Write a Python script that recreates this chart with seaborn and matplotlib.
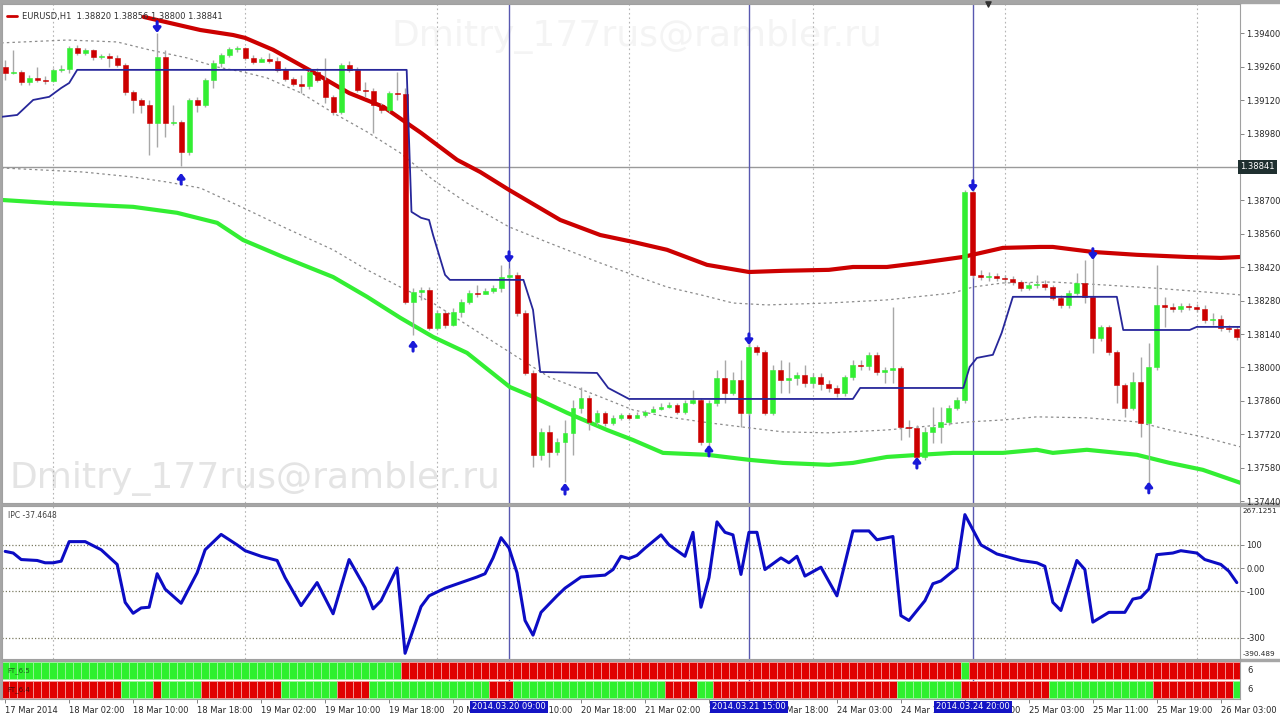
import numpy as np
import matplotlib
matplotlib.use("Agg")
import matplotlib.pyplot as plt
import matplotlib.transforms as mtrans
from matplotlib.patches import Rectangle
import seaborn as sns

sns.set_theme(style="white")
plt.rcParams["font.family"] = ["DejaVu Sans"]
plt.rcParams["font.size"] = 6

# EURUSD H1 candles (bar 0 = 17 Mar 18:00)
first_open = 1.39259
closes = [1.39234, 1.39238, 1.39196, 1.39213, 1.39205, 1.39201, 1.39247, 1.39251, 1.39339, 1.39318,
          1.39331, 1.39301, 1.39305, 1.39297, 1.39268, 1.39155, 1.39121, 1.39100, 1.39025, 1.39301,
          1.39025, 1.39029, 1.38903, 1.39121, 1.39100, 1.39205, 1.39276, 1.39310, 1.39335, 1.39339,
          1.39297, 1.39280, 1.39293, 1.39284, 1.39247, 1.39209, 1.39188, 1.39180, 1.39238, 1.39205,
          1.39134, 1.39071, 1.39268, 1.39247, 1.39163, 1.39159, 1.39100, 1.39079, 1.39150, 1.39146,
          1.38275, 1.38317, 1.38325, 1.38166, 1.38229, 1.38178, 1.38233, 1.38275, 1.38312, 1.38308,
          1.38321, 1.38333, 1.38379, 1.38388, 1.38229, 1.37977, 1.37634, 1.37730, 1.37646, 1.37688,
          1.37726, 1.37830, 1.37872, 1.37772, 1.37810, 1.37768, 1.37789, 1.37801, 1.37789, 1.37801,
          1.37814, 1.37826, 1.37835, 1.37843, 1.37814, 1.37851, 1.37864, 1.37688, 1.37851, 1.37956,
          1.37893, 1.37948, 1.37810, 1.38086, 1.38065, 1.37810, 1.37990, 1.37948, 1.37956, 1.37969,
          1.37935, 1.37960, 1.37931, 1.37914, 1.37893, 1.37960, 1.38011, 1.38006, 1.38053, 1.37981,
          1.37990, 1.37998, 1.37751, 1.37747, 1.37625, 1.37730, 1.37751, 1.37772, 1.37830, 1.37864,
          1.38736, 1.38388, 1.38379, 1.38384, 1.38375, 1.38371, 1.38358, 1.38333, 1.38346, 1.38350,
          1.38337, 1.38291, 1.38262, 1.38312, 1.38354, 1.38296, 1.38124, 1.38170, 1.38065, 1.37927,
          1.37830, 1.37939, 1.37768, 1.38002, 1.38262, 1.38254, 1.38245, 1.38258, 1.38254, 1.38245,
          1.38199, 1.38203, 1.38166, 1.38162, 1.38128]
highs = [1.39289, 1.39331, 1.39247, 1.39226, 1.39259, 1.39222, 1.39255, 1.39268, 1.39347, 1.39351,
         1.39339, 1.39335, 1.39314, 1.39318, 1.39310, 1.39276, 1.39163, 1.39129, 1.39121, 1.39402,
         1.39331, 1.39100, 1.39037, 1.39129, 1.39134, 1.39213, 1.39289, 1.39318, 1.39343, 1.39347,
         1.39343, 1.39310, 1.39301, 1.39318, 1.39301, 1.39259, 1.39217, 1.39226, 1.39247, 1.39255,
         1.39297, 1.39142, 1.39276, 1.39284, 1.39259, 1.39196, 1.39171, 1.39108, 1.39159, 1.39238,
         1.39171, 1.38333, 1.38337, 1.38337, 1.38241, 1.38241, 1.38250, 1.38287, 1.38325, 1.38346,
         1.38333, 1.38346, 1.38430, 1.38417, 1.38400, 1.38241, 1.37990, 1.37747, 1.37760, 1.37705,
         1.37780, 1.37864, 1.37918, 1.37885, 1.37822, 1.37818, 1.37801, 1.37810, 1.37810, 1.37814,
         1.37822, 1.37839, 1.37851, 1.37856, 1.37851, 1.37864, 1.37906, 1.37872, 1.37864, 1.37990,
         1.38032, 1.37981, 1.38032, 1.38103, 1.38094, 1.38074, 1.38011, 1.38032, 1.38023, 1.37981,
         1.38011, 1.37977, 1.37977, 1.37948, 1.37927, 1.37969, 1.38032, 1.38032, 1.38065, 1.38065,
         1.38002, 1.38254, 1.38006, 1.37780, 1.37760, 1.37751, 1.37835, 1.37835, 1.37843, 1.37877,
         1.38744, 1.38756, 1.38409, 1.38400, 1.38396, 1.38388, 1.38384, 1.38367, 1.38358, 1.38388,
         1.38367, 1.38346, 1.38304, 1.38325, 1.38396, 1.38451, 1.38463, 1.38178, 1.38178, 1.38074,
         1.37935, 1.37981, 1.38044, 1.38103, 1.38430, 1.38296, 1.38270, 1.38270, 1.38270, 1.38266,
         1.38262, 1.38229, 1.38220, 1.38178, 1.38174]
lows = [1.39205, 1.39230, 1.39184, 1.39184, 1.39196, 1.39188, 1.39196, 1.39238, 1.39234, 1.39310,
        1.39310, 1.39289, 1.39293, 1.39259, 1.39259, 1.39142, 1.39067, 1.39067, 1.38891, 1.38924,
        1.38966, 1.39016, 1.38844, 1.38891, 1.39071, 1.39092, 1.39171, 1.39259, 1.39301, 1.39322,
        1.39289, 1.39272, 1.39280, 1.39276, 1.39238, 1.39201, 1.39180, 1.39150, 1.39167, 1.39196,
        1.39108, 1.39058, 1.39062, 1.39238, 1.39155, 1.39134, 1.38983, 1.39067, 1.39071, 1.39121,
        1.38266, 1.38136, 1.38283, 1.38157, 1.38157, 1.38166, 1.38174, 1.38212, 1.38266, 1.38296,
        1.38308, 1.38312, 1.38317, 1.38367, 1.38216, 1.37969, 1.37583, 1.37613, 1.37583, 1.37634,
        1.37520, 1.37634, 1.37810, 1.37738, 1.37760, 1.37755, 1.37760, 1.37780, 1.37780, 1.37789,
        1.37793, 1.37814, 1.37822, 1.37830, 1.37805, 1.37805, 1.37847, 1.37675, 1.37671, 1.37840,
        1.37851, 1.37885, 1.37751, 1.37801, 1.38053, 1.37801, 1.37801, 1.37893, 1.37893, 1.37927,
        1.37918, 1.37914, 1.37906, 1.37898, 1.37877, 1.37881, 1.37948, 1.37990, 1.37990, 1.37969,
        1.37935, 1.37935, 1.37696, 1.37709, 1.37613, 1.37613, 1.37684, 1.37684, 1.37760, 1.37822,
        1.37851, 1.38375, 1.38367, 1.38363, 1.38363, 1.38354, 1.38346, 1.38321, 1.38325, 1.38333,
        1.38325, 1.38283, 1.38250, 1.38250, 1.38304, 1.38270, 1.38061, 1.38111, 1.38053, 1.37851,
        1.37793, 1.37822, 1.37709, 1.37512, 1.37990, 1.38170, 1.38233, 1.38233, 1.38241, 1.38233,
        1.38187, 1.38178, 1.38153, 1.38149, 1.38115]

# indicator lines (vertices)
red_bars = [17.3, 24.4, 28.5, 30, 33.5, 38, 43, 47.3, 52, 56.5, 59.4, 63, 69.4, 74.4, 78.5, 82.75,
            87.75, 93, 97.3, 103, 106, 110.25, 114.4, 119.75, 124.75, 129.4, 131, 136, 141.5,
            147.75, 152, 154.5]
red_ma = [1.39469, 1.39414, 1.39393, 1.39381, 1.39331, 1.39247, 1.39150, 1.39092, 1.38983, 1.38870,
          1.38819, 1.38744, 1.38618, 1.38555, 1.38526, 1.38493, 1.38430, 1.38400, 1.38405, 1.38409,
          1.38421, 1.38421, 1.38438, 1.38463, 1.38501, 1.38505, 1.38505, 1.38484, 1.38472, 1.38463,
          1.38459, 1.38463]
green_bars = [-0.5, 5.6, 16, 21.5, 26.5, 29.75, 34.75, 41, 45.25, 49.4, 53.5, 57.75, 63.1, 66,
              70.25, 75.25, 78.5, 82.25, 87.75, 93, 97.25, 103, 106, 110.25, 114.4, 118.5, 124.75,
              129, 131, 135.25, 141.5, 145.6, 149.75, 154.5]
green_ma = [1.38702, 1.38689, 1.38673, 1.38648, 1.38606, 1.38534, 1.38463, 1.38379, 1.38296,
            1.38208, 1.38128, 1.38061, 1.37918, 1.37877, 1.37810, 1.37738, 1.37696, 1.37642,
            1.37634, 1.37613, 1.37600, 1.37592, 1.37600, 1.37625, 1.37634, 1.37642, 1.37642,
            1.37655, 1.37642, 1.37655, 1.37634, 1.37600, 1.37571, 1.37516]
upper_bars = [-0.5, 7.75, 14, 18, 22.75, 26.5, 29.75, 32.75, 37, 41, 45.25, 49.4, 53.5, 57.75, 63,
              68, 74.4, 78.5, 82.75, 87, 91, 95.25, 103, 110.25, 118.5, 121, 124.75, 131, 137.25,
              143.5, 149.75, 154.5]
upper_band = [1.39360, 1.39372, 1.39364, 1.39331, 1.39297, 1.39259, 1.39238, 1.39213, 1.39150,
              1.39067, 1.38987, 1.38899, 1.38786, 1.38689, 1.38589, 1.38522, 1.38438, 1.38388,
              1.38337, 1.38304, 1.38270, 1.38262, 1.38270, 1.38283, 1.38312, 1.38337, 1.38354,
              1.38358, 1.38346, 1.38333, 1.38317, 1.38304]
lower_bars = [-0.5, 9.75, 16, 20.25, 24.4, 29.75, 34.75, 41, 45.25, 49.4, 53.5, 57.75, 64, 68,
              74.4, 78.5, 82.75, 88, 93, 97.25, 103, 110.25, 114.4, 120.6, 124.75, 129, 135.25,
              141.5, 145.6, 149.75, 154.5]
lower_band = [1.38836, 1.38819, 1.38798, 1.38777, 1.38752, 1.38669, 1.38589, 1.38493, 1.38409,
              1.38337, 1.38270, 1.38178, 1.38044, 1.37960, 1.37877, 1.37822, 1.37793, 1.37768,
              1.37747, 1.37730, 1.37726, 1.37738, 1.37751, 1.37772, 1.37780, 1.37793, 1.37789,
              1.37772, 1.37738, 1.37709, 1.37667]
stop_bars = [-0.5, 1.5, 3.5, 5.5, 7, 8, 9, 50.2, 50.8, 52, 53, 53.5, 55, 55.6, 64.8, 66, 66.9,
             74, 75.4, 78, 106, 106.9, 119.8, 120.6, 121.5, 123.5, 124.6, 126, 139, 139.8, 148.1,
             149, 154.5]
stop_line = [1.39050, 1.39058, 1.39121, 1.39134, 1.39171, 1.39192, 1.39247, 1.39247, 1.38652,
             1.38627, 1.38618, 1.38555, 1.38388, 1.38367, 1.38367, 1.38241, 1.37981, 1.37977,
             1.37914, 1.37868, 1.37868, 1.37914, 1.37914, 1.38002, 1.38040, 1.38053, 1.38145,
             1.38296, 1.38296, 1.38157, 1.38157, 1.38170, 1.38170]

# signal arrows (tip prices)
dn_bars = [19, 63, 93, 121, 136]
dn_tips = [1.39402, 1.38438, 1.38094, 1.38736, 1.38451]
up_bars = [22, 51, 70, 88, 114, 143]
up_tips = [1.38815, 1.38115, 1.37516, 1.37676, 1.37625, 1.37521]

# oscillator (IPC) vertices
osc_bars = [0, 1, 2, 4, 5, 6, 7, 8, 10, 12, 14, 15, 16, 17, 18, 19, 20, 22, 24, 25, 27, 29, 30, 32,
            34, 35, 37, 39, 41, 43, 45, 46, 47, 49, 50, 52, 53, 55, 57, 59, 60, 61, 62, 63, 64, 65,
            66, 67, 69, 70, 72, 75, 76, 77, 78, 79, 80, 82, 83, 85, 86, 87, 88, 89, 90, 91, 92, 93,
            94, 95, 97, 98, 99, 100, 102, 104, 106, 108, 109, 111, 112, 113, 115, 116, 117, 119,
            120, 122, 124, 127, 129, 130, 131, 132, 134, 135, 136, 138, 140, 141, 142, 143, 144,
            146, 147, 149, 150, 152, 153, 154]
osc_vals = [72, 65, 37, 33, 23, 23, 30, 114, 114, 79, 16, -147, -194, -171, -168, -24, -90, -151,
            -20, 79, 145, 100, 75, 51, 33, -41, -161, -62, -196, 37, -84, -175, -140, 1, -366,
            -165, -119, -86, -62, -38, -24, 44, 131, 86, -20, -225, -288, -190, -119, -86, -38,
            -30, -6, 51, 41, 55, 86, 143, 100, 51, 154, -168, -41, 199, 154, 143, -27, 154, 154,
            -6, 44, 23, 51, -34, 4, -119, 160, 160, 122, 136, -204, -225, -140, -67, -55, 1, 230,
            100, 61, 33, 23, 8, -147, -182, 33, -6, -232, -190, -190, -133, -126, -90, 58, 65,
            75, 65, 37, 16, -13, -62]

# signal strips as (state, run length); 1 = green, 0 = red
strip_top = [(1, 50), (0, 70), (1, 1), (0, 34)]
strip_bottom = [(0, 15), (1, 4), (0, 1), (1, 5), (0, 10), (1, 7), (0, 4), (1, 15), (0, 3), (1, 19),
                (0, 4), (1, 2), (0, 23), (1, 8), (0, 11), (1, 13), (0, 10), (1, 1)]

time_bars = [0, 8, 16, 24, 32, 40, 48, 56, 64, 72, 80, 88, 96, 104, 112, 120, 128, 136, 144, 152]
time_labels = ["17 Mar 2014", "18 Mar 02:00", "18 Mar 10:00", "18 Mar 18:00", "19 Mar 02:00",
               "19 Mar 10:00", "19 Mar 18:00", "20 Mar 02:00", "20 Mar 10:00", "20 Mar 18:00",
               "21 Mar 02:00", "21 Mar 10:00", "21 Mar 18:00", "24 Mar 03:00", "24 Mar 11:00",
               "24 Mar 19:00", "25 Mar 03:00", "25 Mar 11:00", "25 Mar 19:00", "26 Mar 03:00"]
mark_bars = [63, 93, 121]
mark_labels = ["2014.03.20 09:00", "2014.03.21 15:00", "2014.03.24 20:00"]
day_bars = [6, 30, 54, 78, 101, 125, 149]
price_ticks = [1.39400, 1.39260, 1.39120, 1.38980, 1.38700, 1.38560, 1.38420, 1.38280, 1.38140,
               1.38000, 1.37860, 1.37720, 1.37580, 1.37440]
last_price = 1.38841

BULL, BEAR = "#33ee33", "#cc0000"
NAVY_LINE = "#5858b0"
TXT = "#262626"

fig = plt.figure(figsize=(12.8, 7.2), dpi=100)
W, H = 1280.0, 720.0
ax = fig.add_axes([2 / W, (H - 503) / H, 1238 / W, 499 / H])
axo = fig.add_axes([2 / W, (H - 659) / H, 1238 / W, 153 / H])
axs = fig.add_axes([2 / W, (H - 699) / H, 1238 / W, 38 / H])

for a in (ax, axo, axs):
    a.set_xlim(-0.4, 154.4)
    a.set_facecolor("white")
    for s in a.spines.values():
        s.set_color("#a0a0a0")
        s.set_linewidth(0.8)
    a.yaxis.tick_right()
    a.tick_params(axis="y", which="both", direction="out", length=3, width=0.6,
                  color="#707070", labelsize=6, labelcolor=TXT, pad=1.5, right=True, left=False)
    for b in mark_bars:
        a.axvline(b, color=NAVY_LINE, lw=1, zorder=1.5)

# ---- main price panel ----
n = len(closes)
x = np.arange(n)
c = np.array(closes)
o = np.r_[first_open, c[:-1]]
colors = np.where(c >= o, BULL, BEAR)

for b in day_bars:
    ax.axvline(b, color="#b4b4b4", lw=0.8, ls=(0, (1.5, 2.5)), zorder=0.8)
ax.axhline(last_price, color="#9a9a9a", lw=1, zorder=1.2)

ax.text(0.006, 0.015, "Dmitry_177rus@rambler.ru", transform=ax.transAxes, fontsize=26,
        color="#e4e4e4", ha="left", va="bottom", zorder=0.5)
ax.text(0.513, 0.935, "Dmitry_177rus@rambler.ru", transform=ax.transAxes, fontsize=26,
        color="#f4f4f4", ha="center", va="center", zorder=0.5)

sns.lineplot(x=upper_bars, y=upper_band, ax=ax, color="#8c8c8c", lw=0.9, ls=(0, (2, 2.5)), zorder=2)
sns.lineplot(x=lower_bars, y=lower_band, ax=ax, color="#8c8c8c", lw=0.9, ls=(0, (2, 2.5)), zorder=2)
sns.lineplot(x=red_bars, y=red_ma, ax=ax, color="#cc0000", lw=3.0, zorder=2.2)
sns.lineplot(x=green_bars, y=green_ma, ax=ax, color="#33ee33", lw=3.0, zorder=2.2)

ax.vlines(x, lows, highs, color="#a8a8a8", lw=1, zorder=3)
body = np.maximum(np.abs(c - o), 0.00002)
ax.bar(x, body, bottom=np.minimum(o, c), width=0.62, color=colors, edgecolor=colors,
       linewidth=0.4, zorder=3.2)

sns.lineplot(x=stop_bars, y=stop_line, ax=ax, color="#27279a", lw=1.3, zorder=3.5)

arrow = dict(arrowstyle="-|>,head_length=0.45,head_width=0.35", color="#1a1ad8", lw=2.2,
             shrinkA=0, shrinkB=0)
for b, v in zip(dn_bars, dn_tips):
    ax.annotate("", xy=(b, v), xytext=(0, 8), textcoords="offset points", arrowprops=arrow, zorder=4)
for b, v in zip(up_bars, up_tips):
    ax.annotate("", xy=(b, v), xytext=(0, -8), textcoords="offset points", arrowprops=arrow, zorder=4)

ax.set_ylim(1.37432, 1.39523)
ax.set_yticks(price_ticks)
ax.set_yticklabels([f"{p:.5f}" for p in price_ticks])
ax.set_xticks([])
ax.set_xlabel("")
ax.set_ylabel("")
ax.text(1.0, last_price, f"{last_price:.5f}", transform=mtrans.blended_transform_factory(ax.transAxes, ax.transData),
        ha="left", va="center", fontsize=6, color="white", zorder=6,
        bbox=dict(facecolor="#1f3030", edgecolor="none", pad=1.6))

ax.plot([0.004, 0.012], [0.975, 0.975], transform=ax.transAxes, color="#cc0000", lw=2)
ax.text(0.016, 0.975, "EURUSD,H1  1.38820 1.38856 1.38800 1.38841", transform=ax.transAxes,
        ha="left", va="center", fontsize=6, color="#303030")
ax.scatter([122.9], [1.0], marker="v", s=14, color="#303030", transform=ax.get_xaxis_transform(),
           clip_on=False, zorder=6)

# ---- oscillator panel ----
for b in day_bars:
    axo.axvline(b, color="#b4b4b4", lw=0.8, ls=(0, (1.5, 2.5)), zorder=0.8)
for lv in (100, 0, -100, -300):
    axo.axhline(lv, color="#7a7a60", lw=0.9, ls=(0, (1, 1.6)), zorder=1)
sns.lineplot(x=osc_bars, y=osc_vals, ax=axo, color="#0c0cc4", lw=2.2, zorder=3)
axo.set_ylim(-390.489, 267.1251)
axo.set_yticks([100, 0, -100, -300])
axo.set_yticklabels(["100", "0.00", "-100", "-300"])
axo.set_xticks([])
axo.set_xlabel("")
axo.set_ylabel("")
axo.text(1.002, 0.985, "267.1251", transform=axo.transAxes, ha="left", va="top", fontsize=5.2, color=TXT)
axo.text(1.002, 0.015, "-390.489", transform=axo.transAxes, ha="left", va="bottom", fontsize=5.2, color=TXT)
axo.text(0.005, 0.965, "IPC -37.4648", transform=axo.transAxes, ha="left", va="top", fontsize=5.5, color="#404040")

# ---- signal strips ----
def expand(runs):
    return np.concatenate([np.full(k, s) for s, k in runs])

for states, base in ((expand(strip_top), 1.0), (expand(strip_bottom), 0.0)):
    fc = np.where(states == 1, "#2ef02e", "#e00000")
    ec = np.where(states == 1, "#9cf59c", "#f39a9a")
    axs.bar(x, 0.92, bottom=base + 0.04, width=1.0, color=fc, edgecolor=ec, linewidth=0.6, zorder=2)
axs.set_ylim(0, 2)
axs.set_yticks([])
axs.text(0.004, 0.75, "FT_6.5", transform=axs.transAxes, ha="left", va="center", fontsize=5, color="#1d5a1d", zorder=5)
axs.text(0.004, 0.25, "FT_6.4", transform=axs.transAxes, ha="left", va="center", fontsize=5, color="#3a1010", zorder=5)
axs.text(1.006, 0.75, "6", transform=axs.transAxes, ha="left", va="center", fontsize=6, color=TXT)
axs.text(1.006, 0.25, "6", transform=axs.transAxes, ha="left", va="center", fontsize=6, color=TXT)

axs.set_xticks(time_bars)
axs.set_xticklabels(time_labels)
axs.tick_params(axis="x", direction="out", length=3, width=0.6, color="#707070", labelsize=6,
                labelcolor=TXT, pad=2, bottom=True)
for lbl in axs.get_xticklabels():
    lbl.set_ha("left")
for b, t in zip(mark_bars, mark_labels):
    axs.text(b, -0.09, t, transform=axs.get_xaxis_transform(), ha="center", va="top", fontsize=6,
             color="white", zorder=10, clip_on=False,
             bbox=dict(facecolor="#1414c4", edgecolor="none", pad=1.4))

# panel separators and frame
for y0, h in ((0, 3), (503, 3), (659, 2)):
    fig.add_artist(Rectangle((0, (H - y0 - h) / H), 1, h / H, transform=fig.transFigure,
                             color="#a6a6a6", zorder=0))
fig.add_artist(Rectangle((0, (H - 699) / H), 2 / W, 699 / H, transform=fig.transFigure,
                         color="#a6a6a6", zorder=0))

fig.savefig("out.png", dpi=100, facecolor="white")
